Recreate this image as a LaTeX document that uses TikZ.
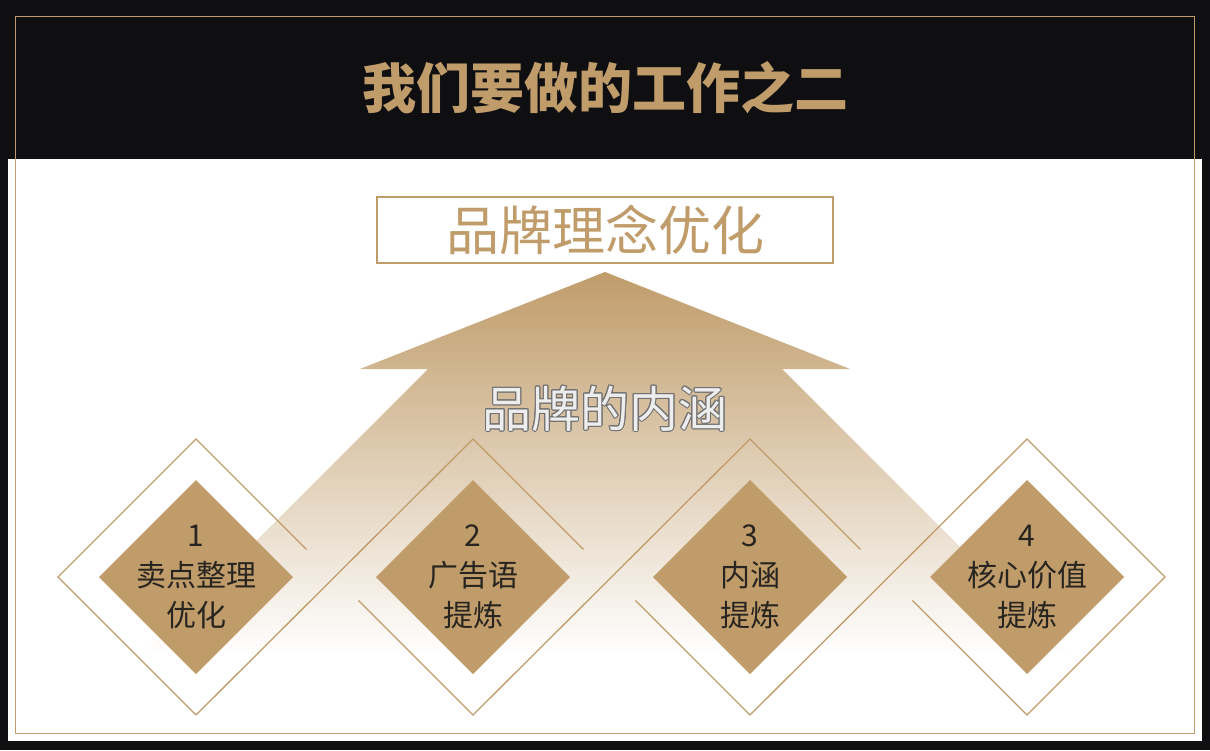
\documentclass[tikz,border=0pt]{standalone}
\usepackage{fontspec}
\setmainfont{Noto Sans CJK SC}
\usepackage{contour}
\usetikzlibrary{calc,shapes.geometric}
\definecolor{gold}{RGB}{192,156,106}
\definecolor{darkbg}{RGB}{15,15,17}
\definecolor{ink}{RGB}{40,37,33}
\contourlength{0.9pt}

\begin{document}
\begin{tikzpicture}[x=1pt,y=-1pt]
% Node styles: outer frame, filled diamond, diamond text
\tikzstyle{frame node}=[diamond,aspect=1,inner sep=0,outer sep=0,minimum size=276pt];
\tikzstyle{solid node}=[diamond,aspect=1,fill=gold,inner sep=0,outer sep=0,minimum size=194pt];
\tikzstyle{label node}=[align=center,text=ink,font=\fontsize{30}{40}\selectfont];
\tikzstyle{gold line}=[draw=gold,line width=1.3pt];
% Background and frame
\fill[darkbg](0,0)rectangle(1210,750);
\fill[white](8,159)rectangle(1202,741);
\draw[gold line,line width=1pt](15,16)rectangle(1194,733);
% The arrow
\coordinate(tip)at(605,272);
\coordinate(hr)at(850,369);
\coordinate(sr)at(782,369);
\coordinate(br)at(1068,655);
\coordinate(bl)at(142,655);
\coordinate(sl)at(428,369);
\coordinate(hl)at(360,369);
\shade[top color=gold,bottom color=white](tip)--(hr)--(sr)--(br)--(bl)--(sl)--(hl)--cycle;
% The diamonds
\node(o1)[frame node]at(196,577){};
\node(o2)[frame node]at(473,577){};
\node(o3)[frame node]at(750,577){};
\node(o4)[frame node]at(1027,577){};
\draw[gold line](o1.south)--(o1.west)--(o1.north)--($(o1.north)!.8!(o1.east)$);
\draw[gold line](o1.south)--(o2.north)--($(o2.north)!.8!(o2.east)$);
\draw[gold line]($(o2.south)!.83!(o2.west)$)--(o2.south)--(o3.north)--($(o3.north)!.8!(o3.east)$);
\draw[gold line]($(o3.south)!.83!(o3.west)$)--(o3.south)--(o4.north)--(o4.east)--(o4.south)--($(o4.south)!.83!(o4.west)$);
\node(d1)[solid node]at(o1){};
\node(d2)[solid node]at(o2){};
\node(d3)[solid node]at(o3){};
\node(d4)[solid node]at(o4){};
\node(t1)[label node]at(d1){1\\卖点整理\\优化};
\node(t2)[label node]at(d2){2\\广告语\\提炼};
\node(t3)[label node]at(d3){3\\内涵\\提炼};
\node(t4)[label node]at(d4){4\\核心价值\\提炼};
% Texts
\node(mid)[text=white!93!black,font=\fontsize{49}{58}\selectfont]at(605,409){\contour{black!55}{品牌的内涵}};
\node(goal)[draw=gold,line width=1.5pt,minimum width=456pt,minimum height=66pt,text=gold,font=\fontsize{53}{62}\selectfont]at(605,230){品牌理念优化};
\node(title)[text=gold,font=\bfseries\fontsize{54}{64}\selectfont]at(605,88){我们要做的工作之二};
\end{tikzpicture}
\end{document}
